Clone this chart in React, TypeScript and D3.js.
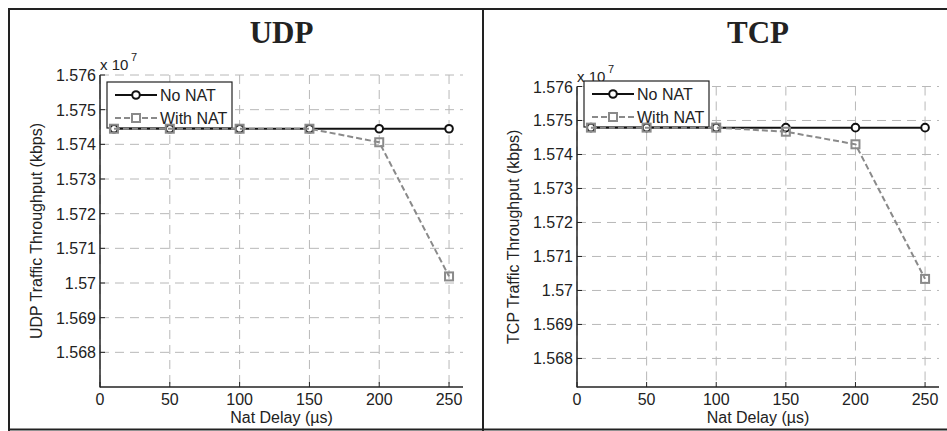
import React from "react";
import * as d3 from "d3";

const delays = [10, 50, 100, 150, 200, 250];
const xTicks = [0, 50, 100, 150, 200, 250];
const yTicks = [1.568, 1.569, 1.57, 1.571, 1.572, 1.573, 1.574, 1.575, 1.576];
const yTickLabels = ["1.568", "1.569", "1.57", "1.571", "1.572", "1.573", "1.574", "1.575", "1.576"];

const udpNoNat = [1.57445, 1.57445, 1.57445, 1.57445, 1.57445, 1.57445];
const udpWithNat = [1.57445, 1.57445, 1.57445, 1.57445, 1.57406, 1.57019];
const tcpNoNat = [1.57479, 1.57479, 1.57479, 1.57479, 1.57479, 1.57479];
const tcpWithNat = [1.57479, 1.57479, 1.57479, 1.57467, 1.5743, 1.57034];

const seriesNames = ["No NAT", "With NAT"];

const SANS = "'Liberation Sans', Arial, sans-serif";
const SERIF = "'Liberation Serif', 'Times New Roman', serif";
const GRAY = "#8a8a8a";
const GRID = "#b8b8b8";

type PanelProps = {
  title: string;
  yLabel: string;
  noNat: number[];
  withNat: number[];
  x0: number; x1: number; y0: number; y1: number;
  yMin: number; yMax: number;
  legendX: number; legendY: number;
};

function Panel(p: PanelProps) {
  const x = d3.scaleLinear().domain([0, 260]).range([p.x0, p.x1]);
  const y = d3.scaleLinear().domain([p.yMin, p.yMax]).range([p.y1, p.y0]);
  const line = d3.line<number>().x((_, i) => x(delays[i])).y((v) => y(v));
  const cx = (p.x0 + p.x1) / 2;
  const cy = (p.y0 + p.y1) / 2;
  const lw = 125, lh = 46;
  const row1 = p.legendY + 13, row2 = p.legendY + 36;
  const lx0 = p.legendX + 8, lx1 = p.legendX + 50, lxm = p.legendX + 29;
  return (
    <g>
      {/* grid */}
      {xTicks.map((t) => (
        <line key={"gx" + t} x1={x(t)} x2={x(t)} y1={p.y0} y2={p.y1} stroke={GRID} strokeWidth={1} strokeDasharray="9,6" />
      ))}
      {yTicks.map((t) => (
        <line key={"gy" + t} x1={p.x0} x2={p.x1} y1={y(t)} y2={y(t)} stroke={GRID} strokeWidth={1} strokeDasharray="9,6" />
      ))}
      {/* axes */}
      <line x1={p.x0} x2={p.x0} y1={p.y0} y2={p.y1 + 0.5} stroke="#222" strokeWidth={1.5} />
      <line x1={p.x0} x2={p.x1} y1={p.y1} y2={p.y1} stroke="#222" strokeWidth={1.5} />
      {xTicks.map((t) => (
        <g key={"xt" + t}>
          <line x1={x(t)} x2={x(t)} y1={p.y1} y2={p.y1 - 5} stroke="#222" strokeWidth={1} />
          <text x={x(t)} y={p.y1 + 18} textAnchor="middle" fontFamily={SANS} fontSize={16} fill="#222">{t}</text>
        </g>
      ))}
      {yTicks.map((t, i) => (
        <g key={"yt" + t}>
          <line x1={p.x0} x2={p.x0 + 5} y1={y(t)} y2={y(t)} stroke="#222" strokeWidth={1} />
          <text x={p.x0 - 4} y={y(t) + 6} textAnchor="end" fontFamily={SANS} fontSize={16} fill="#222">{yTickLabels[i]}</text>
        </g>
      ))}
      {/* exponent */}
      <text x={p.x0} y={p.y0 - 5} fontFamily={SANS} fontSize={15} fill="#222">x 10</text>
      <text x={p.x0 + 31} y={p.y0 - 14} fontFamily={SANS} fontSize={11} fill="#222">7</text>
      {/* labels */}
      <text x={cx} y={43} textAnchor="middle" fontFamily={SERIF} fontWeight="bold" fontSize={31} fill="#222">{p.title}</text>
      <text x={cx} y={423} textAnchor="middle" fontFamily={SANS} fontSize={16} fill="#222">Nat Delay (µs)</text>
      <text transform={`translate(${p.x0 - 58},${cy}) rotate(-90)`} textAnchor="middle" fontFamily={SANS} fontSize={16} fill="#222">{p.yLabel}</text>
      {/* legend */}
      <rect x={p.legendX} y={p.legendY} width={lw} height={lh} fill="white" stroke="#222" strokeWidth={1.2} />
      <line x1={lx0} x2={lx1} y1={row1} y2={row1} stroke="#111" strokeWidth={2} />
      <circle cx={lxm} cy={row1} r={3.8} fill="white" stroke="#111" strokeWidth={2} />
      <text x={p.legendX + 53} y={row1 + 6} fontFamily={SANS} fontSize={16} fill="#222">{seriesNames[0]}</text>
      <line x1={lx0} x2={lx1} y1={row2} y2={row2} stroke={GRAY} strokeWidth={2} strokeDasharray="6,3" />
      <rect x={lxm - 4} y={row2 - 4} width={8} height={8} fill="white" stroke={GRAY} strokeWidth={2} />
      <text x={p.legendX + 53} y={row2 + 6} fontFamily={SANS} fontSize={16} fill="#222">{seriesNames[1]}</text>
      {/* series */}
      <path d={line(p.noNat) || ""} fill="none" stroke="#111" strokeWidth={2} />
      {p.noNat.map((v, i) => (
        <circle key={"c" + i} cx={x(delays[i])} cy={y(v)} r={3.8} fill="white" stroke="#111" strokeWidth={2} />
      ))}
      <path d={line(p.withNat) || ""} fill="none" stroke={GRAY} strokeWidth={2} strokeDasharray="6,3" />
      {p.withNat.map((v, i) => (
        <rect key={"s" + i} x={x(delays[i]) - 4} y={y(v) - 4} width={8} height={8} fill="none" stroke={GRAY} strokeWidth={2} />
      ))}
    </g>
  );
}

export default function App() {
  return (
    <svg width={947} height={431} style={{ position: "absolute", left: 0, top: 0, background: "white" }}>
      <rect x={0} y={0} width={947} height={431} fill="white" />
      <Panel title="UDP" yLabel="UDP Traffic Throughput (kbps)" noNat={udpNoNat} withNat={udpWithNat}
        x0={100} x1={463} y0={75} y1={387} yMin={1.567} yMax={1.576} legendX={107} legendY={82} />
      <Panel title="TCP" yLabel="TCP Traffic Throughput (kbps)" noNat={tcpNoNat} withNat={tcpWithNat}
        x0={577} x1={939} y0={86.5} y1={387} yMin={1.56716} yMax={1.576} legendX={584} legendY={81} />
      {/* frames */}
      <line x1={8} x2={947} y1={9} y2={9} stroke="#222" strokeWidth={2} />
      <line x1={8} x2={947} y1={429.5} y2={429.5} stroke="#222" strokeWidth={2} />
      <line x1={9} x2={9} y1={8} y2={431} stroke="#222" strokeWidth={2} />
      <line x1={483} x2={483} y1={8} y2={431} stroke="#222" strokeWidth={2} />
    </svg>
  );
}
